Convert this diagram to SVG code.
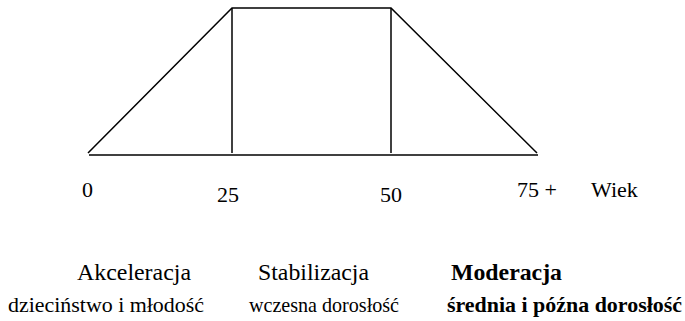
<svg xmlns="http://www.w3.org/2000/svg" width="685" height="321" viewBox="0 0 685 321">
<style>
.ln{stroke:#000;stroke-width:1.5;fill:none}
.t{font-family:"Liberation Serif","Times New Roman",serif;font-size:22px;fill:#000}
.h{font-size:23.5px}
.b{font-weight:bold}
</style>
<rect width="685" height="321" fill="#fff"/>
<g id="connectors">
<polyline class="ln" points="88,153 232,8 391,8 537,153"/>
<line class="ln" x1="232" y1="8" x2="232" y2="153"/>
<line class="ln" x1="391" y1="8" x2="391" y2="153"/>
<line class="ln" x1="89" y1="155" x2="538" y2="155" stroke-width="2"/>
</g>
<g id="axis-labels">
<text class="t" x="82" y="197">0</text>
<text class="t" x="217" y="202">25</text>
<text class="t" x="380" y="202">50</text>
<text class="t" x="517" y="197">75 +</text>
<text class="t" x="591" y="197">Wiek</text>
</g>
<g id="phase-acceleration">
<text class="t h" x="77" y="280" textLength="114" lengthAdjust="spacingAndGlyphs">Akceleracja</text>
<text class="t" x="8" y="312" textLength="196" lengthAdjust="spacingAndGlyphs">dzieciństwo i młodość</text>
</g>
<g id="phase-stabilization">
<text class="t h" x="258" y="280" textLength="111" lengthAdjust="spacingAndGlyphs">Stabilizacja</text>
<text class="t" x="249" y="312" textLength="150" lengthAdjust="spacingAndGlyphs">wczesna dorosłość</text>
</g>
<g id="phase-moderation">
<text class="t h b" x="451" y="280" textLength="111" lengthAdjust="spacingAndGlyphs">Moderacja</text>
<text class="t b" x="447" y="312" textLength="235" lengthAdjust="spacingAndGlyphs">średnia i późna dorosłość</text>
</g>
</svg>
